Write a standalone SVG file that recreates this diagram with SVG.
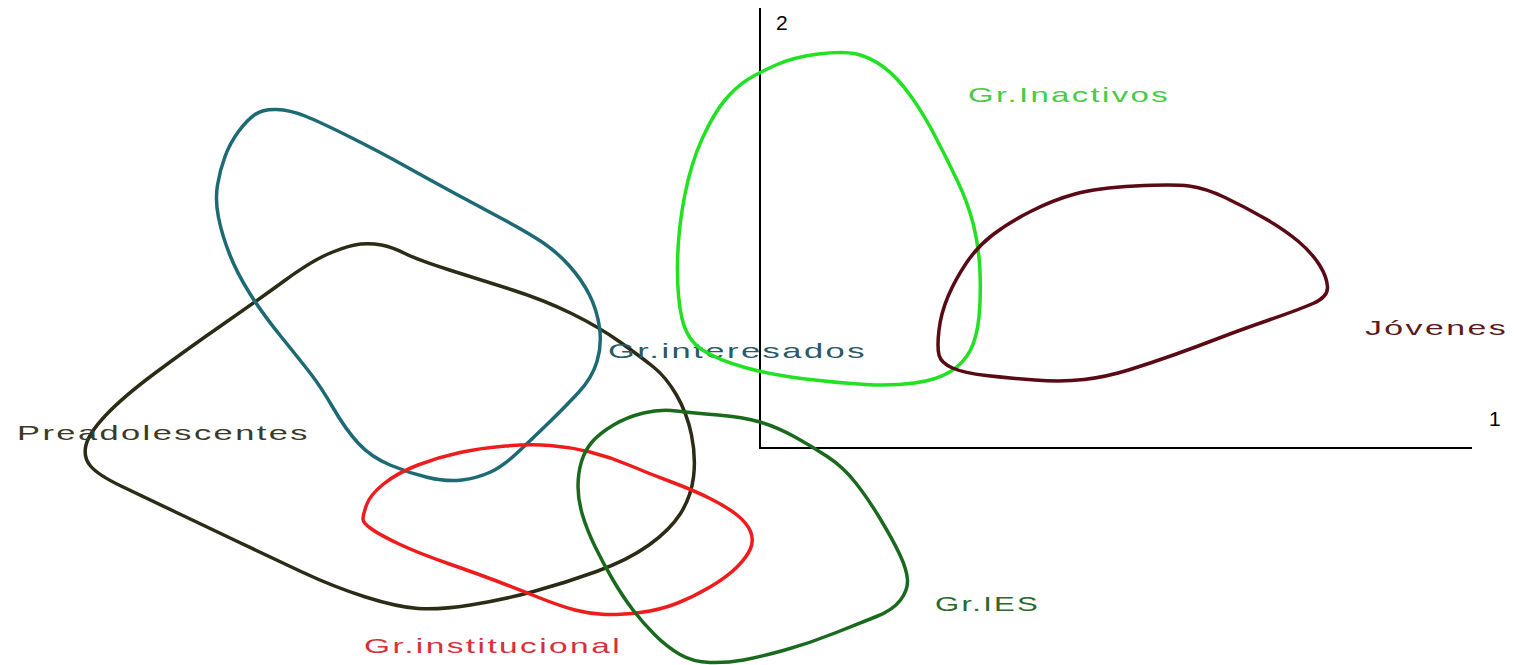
<svg xmlns="http://www.w3.org/2000/svg" width="1515" height="665" viewBox="0 0 1515 665">
<style>
.c{fill:none;stroke-width:3.5;stroke-linejoin:round;stroke-linecap:round}
.t{font-family:"Liberation Sans",Arial,sans-serif;font-size:21px;letter-spacing:1.5px}
.ax{stroke:#000;stroke-width:2;fill:none}
</style>
<rect width="1515" height="665" fill="#fff"/>
<g id="axes">
<polyline class="ax" points="760,8 760,448 1472,448"/>
<text class="t" x="776" y="30" fill="#000" letter-spacing="0">2</text>
<text class="t" x="1489" y="426" fill="#000" letter-spacing="0">1</text>
</g>
<g id="connectors"></g>
<g id="preadolescentes">
<path class="c" stroke="#2b2b16" d="M360.5,244 Q350,245 331.5,252.5 Q313,260 285.5,280 Q258,300 222,325 Q186,350 154.5,373.5 Q123,397 106,415 Q89,433 86,445 Q83,457 90.5,466 Q98,475 121,486 Q144,497 175.5,512 Q207,527 238.5,542 Q270,557 302,572 Q334,587 365.5,597 Q397,607 418,608.5 Q439,610 470.5,605 Q502,600 533.5,591.5 Q565,583 596.5,571.5 Q628,560 649,545 Q670,530 680.5,513.5 Q691,497 693.5,477 Q696,457 691.5,435 Q687,413 676.5,395 Q666,377 653.5,367 Q641,357 620,342 Q599,327 571.5,313.5 Q544,300 512.5,290 Q481,280 449.5,270 Q418,260 405,253.5 Q392,247 381.5,245 Q371,243 360.5,244 Z"/>
<text class="t" x="17" y="440" fill="#3a3a28" textLength="293" lengthAdjust="spacingAndGlyphs">Preadolescentes</text>
</g>
<g id="interesados">
<path class="c" stroke="#1d6a74" d="M276.5,109.5 Q290,110 305,116 Q320,122 350,137 Q380,152 405,166 Q430,180 455,193.5 Q480,207 503.5,219.5 Q527,232 542,242 Q557,252 569.5,266 Q582,280 589.5,295 Q597,310 599.5,327.5 Q602,345 597,361.5 Q592,378 578.5,392.5 Q565,407 548,423.5 Q531,440 516.5,453.5 Q502,467 489.5,472.5 Q477,478 462,480 Q447,482 428,477.5 Q409,473 390,465 Q371,457 358.5,443.5 Q346,430 333.5,408.5 Q321,387 310.5,373.5 Q300,360 281,336.5 Q262,313 249.5,293 Q237,273 229.5,254 Q222,235 218.5,217.5 Q215,200 217.5,185 Q220,170 225,156.5 Q230,143 238.5,131.5 Q247,120 255,114.5 Q263,109 276.5,109.5 Z"/>
<text class="t" x="608" y="358" fill="#2a5a66" textLength="259" lengthAdjust="spacingAndGlyphs">Gr.interesados</text>
</g>
<g id="institucional">
<path class="c" stroke="#ee1c1c" d="M366.5,505 Q370,495 383.5,484 Q397,473 418,465 Q439,457 460,452.5 Q481,448 505.5,446 Q530,444 550,445.5 Q570,447 590,452 Q610,457 630,465.5 Q650,474 671.5,482 Q693,490 710,498.5 Q727,507 737,515 Q747,523 750.5,531.5 Q754,540 750.5,548.5 Q747,557 737,567 Q727,577 710,587 Q693,597 676.5,603.5 Q660,610 640,612.5 Q620,615 605,614.5 Q590,614 575,610 Q560,606 540,598 Q520,590 500.5,582.5 Q481,575 449.5,564 Q418,553 399,544 Q380,535 371.5,529 Q363,523 363,519 Q363,515 366.5,505 Z"/>
<text class="t" x="364" y="653" fill="#d8303a" textLength="258" lengthAdjust="spacingAndGlyphs">Gr.institucional</text>
</g>
<g id="ies">
<path class="c" stroke="#1a6a1e" d="M643.5,413 Q627,417 613.5,425 Q600,433 592.5,441.5 Q585,450 581.5,461.5 Q578,473 578,486.5 Q578,500 582.5,515 Q587,530 595,546.5 Q603,563 613,580 Q623,597 633,610 Q643,623 655,635 Q667,647 680,654.5 Q693,662 710,662.5 Q727,663 743.5,660 Q760,657 785,650 Q810,643 835,633 Q860,623 876.5,616.5 Q893,610 900.5,600 Q908,590 907.5,580 Q907,570 900,555 Q893,540 880,518.5 Q867,497 855,482 Q843,467 828,457 Q813,447 795,437 Q777,427 760,422 Q743,417 718,415 Q693,413 676.5,411 Q660,409 643.5,413 Z"/>
<text class="t" x="935" y="611" fill="#2a6a2a" textLength="105" lengthAdjust="spacingAndGlyphs">Gr.IES</text>
</g>
<g id="inactivos">
<path class="c" stroke="#22e022" d="M776,65 Q794,57 818.5,54 Q843,51 856.5,54 Q870,57 883.5,67 Q897,77 910,95 Q923,113 934.5,135 Q946,157 957,180 Q968,203 973.5,225 Q979,247 980,272 Q981,297 979,317 Q977,337 970.5,350 Q964,363 950.5,371.5 Q937,380 914.5,383 Q892,386 865.5,384.5 Q839,383 805.5,379 Q772,375 745,367.5 Q718,360 702.5,350 Q687,340 682,318.5 Q677,297 677.5,263.5 Q678,230 684.5,196.5 Q691,163 702.5,138 Q714,113 725,100 Q736,87 747,80 Q758,73 776,65 Z"/>
<text class="t" x="968" y="102" fill="#44cc44" textLength="202" lengthAdjust="spacingAndGlyphs">Gr.Inactivos</text>
</g>
<g id="jovenes">
<path class="c" stroke="#5a0a14" d="M992.5,235 Q1008,223 1030.5,211.5 Q1053,200 1075,194 Q1097,188 1135,186 Q1173,184 1189,186 Q1205,188 1225,197.5 Q1245,207 1265,218.5 Q1285,230 1298.5,241.5 Q1312,253 1319.5,265 Q1327,277 1327.5,287 Q1328,297 1313,303.5 Q1298,310 1269,320 Q1240,330 1218,338.5 Q1196,347 1173.5,355 Q1151,363 1128.5,370 Q1106,377 1084,379.5 Q1062,382 1035,380 Q1008,378 986,375.5 Q964,373 952.5,368 Q941,363 939,355 Q937,347 939,330 Q941,313 948,296.5 Q955,280 966,263.5 Q977,247 992.5,235 Z"/>
<text class="t" x="1365" y="335" fill="#5a1a22" textLength="143" lengthAdjust="spacingAndGlyphs">Jóvenes</text>
</g>
</svg>
